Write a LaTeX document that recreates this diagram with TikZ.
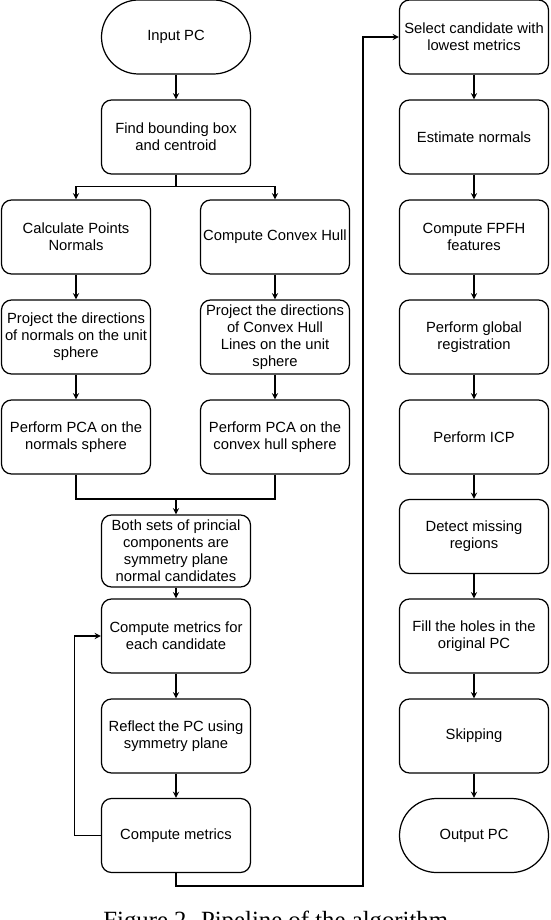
\documentclass[tikz,border=0pt]{standalone}
\usepackage{fontspec}
\setmainfont{Liberation Sans}
\newfontfamily\captionserif{Liberation Serif}
\usepackage{tikz}
\usetikzlibrary{shapes.geometric, arrows, positioning, calc}
\definecolor{darkline}{RGB}{0, 0, 0}

\begin{document}
\begin{tikzpicture}[
    process/.style={rectangle, rounded corners=0.2cm, minimum width=2.98cm, minimum height=1.48cm, align=center, draw=darkline, line width=0.7pt, inner sep=1pt, font=\fontsize{8.4}{9.7}\selectfont},
    terminal/.style={process, rounded corners=0.74cm},
    arrow/.style={line width=0.6pt,->,>=stealth, draw=darkline},
    link/.style={line width=0.6pt, draw=darkline}
]
\useasboundingbox (0,0) rectangle (11,-18.4);

% Left branch
\node (input) [terminal] at (3.52,-0.74) {Input PC};
\node (bbox) [process] at (3.52,-2.74) {Find bounding box\\and centroid};
\node (normals) [process] at (1.52,-4.74) {Calculate Points\\Normals};
\node (hull) [process] at (5.5,-4.74) {Compute Convex Hull};
\node (projN) [process] at (1.52,-6.74) {Project the directions\\of normals on the unit\\sphere};
\node (projH) [process] at (5.5,-6.74) {Project the directions\\of Convex Hull\\Lines on the unit\\sphere};
\node (pcaN) [process] at (1.52,-8.74) {Perform PCA on the\\normals sphere};
\node (pcaH) [process] at (5.5,-8.74) {Perform PCA on the\\convex hull  sphere};
\node (both) [process, minimum height=1.44cm] at (3.52,-11.02) {Both sets of princial\\components are\\symmetry plane\\normal candidates};
\node (metricsEach) [process] at (3.52,-12.72) {Compute metrics for\\each candidate};
\node (reflect) [process] at (3.52,-14.72) {Reflect the PC using\\symmetry plane};
\node (metrics) [process] at (3.52,-16.71) {Compute metrics};

% Right branch
\node (select) [process] at (9.48,-0.74) {Select candidate with\\lowest metrics};
\node (estimate) [process] at (9.48,-2.74) {Estimate normals};
\node (fpfh) [process] at (9.48,-4.74) {Compute FPFH\\features};
\node (global) [process] at (9.48,-6.74) {Perform global\\registration};
\node (icp) [process] at (9.48,-8.74) {Perform ICP};
\node (detect) [process] at (9.48,-10.73) {Detect missing\\regions};
\node (fill) [process] at (9.48,-12.72) {Fill the holes in the\\original PC};
\node (skipping) [process] at (9.48,-14.72) {Skipping};
\node (output) [terminal] at (9.48,-16.71) {Output PC};

% Helper points
\coordinate (merge) at (3.52,-9.98);
\coordinate (jump) at (7.26,-17.72);

% Arrows
\foreach \from/\to in {input/bbox, normals/projN, hull/projH, projN/pcaN, projH/pcaH, both/metricsEach, metricsEach/reflect, reflect/metrics, select/estimate, estimate/fpfh, fpfh/global, global/icp, icp/detect, detect/fill, fill/skipping, skipping/output} {
    \draw [arrow] (\from) -- (\to);
}

\draw [arrow] (bbox.south) -- ++(0,-0.24) -| (normals);
\draw [arrow] (bbox.south) -- ++(0,-0.24) -| (hull);
\draw [link] (pcaN.south) |- (merge);
\draw [link] (pcaH.south) |- (merge);
\draw [arrow] (merge) -- (both);
\draw [arrow] (metrics.west) -- ++(-0.52,0) |- (metricsEach.west);
\draw [arrow] (metrics.south) |- (jump) |- (select.west);

\node (caption) [anchor=base west, inner sep=0pt, font=\captionserif\fontsize{14.1}{16}\selectfont] at (2.06,-18.57) {Figure 2. Pipeline of the algorithm.};

\end{tikzpicture}
\end{document}
